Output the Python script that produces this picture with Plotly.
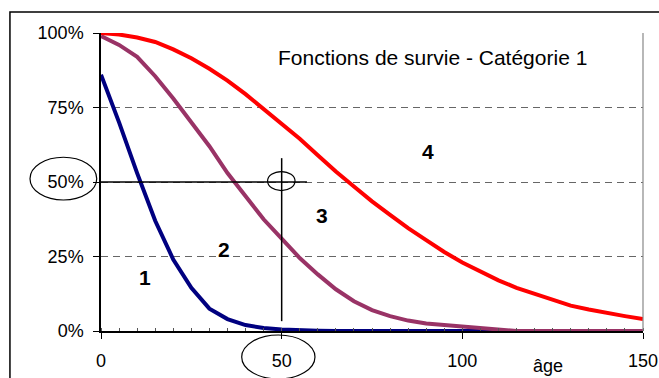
import plotly.graph_objects as go

ages = list(range(0, 155, 5))
blue_vals = [86, 70, 53, 37, 24, 14.5, 7.5, 4, 2, 1, 0.5, 0.2, 0.1, 0, 0, 0, 0, 0, 0, 0, 0,
             0, 0, 0, 0, 0, 0, 0, 0, 0, 0]
purple_vals = [99, 96, 92, 85.5, 78, 70, 62, 53, 45, 37.5, 31, 24.5, 19, 14, 10, 7, 5, 3.5, 2.5, 2, 1.2,
               1, 0.3, 0, 0, 0, 0, 0, 0, 0, 0]
red_vals = [100, 99.5, 98.5, 97, 94.5, 91.5, 88, 84, 79.5, 74.5, 69.5, 64.5, 59, 53.5, 48.5, 43.5,
            39, 34.5, 30.5, 26.5, 23, 20, 17, 14.5, 12.5, 10.5, 8.5, 7.2, 6, 5, 4]

x_ticks = [0, 50, 100, 150]
y_ticks = [0, 25, 50, 75, 100]
y_ticklabels = ["0%", "25%", "50%", "75%", "100%"]
curve_labels = ["1", "2", "3", "4"]
label_x = [12.2, 34.0, 61.2, 90.5]
label_y = [18.1, 27.3, 38.6, 60.4]
title_text = "Fonctions de survie - Catégorie 1"
x_title = "âge"

fig = go.Figure()
for vals, col in [(blue_vals, "#000080"), (purple_vals, "#993366"), (red_vals, "#FF0000")]:
    fig.add_trace(go.Scatter(x=ages, y=vals, mode="lines",
                             line=dict(color=col, width=4), showlegend=False,
                             hoverinfo="skip"))

# reference lines (horizontal at 50%, vertical at age 50)
fig.add_trace(go.Scatter(x=[0, 57], y=[50, 50], mode="lines",
                         line=dict(color="black", width=1.5), showlegend=False))
fig.add_trace(go.Scatter(x=[50, 50], y=[3.3, 58], mode="lines",
                         line=dict(color="black", width=1.5), showlegend=False))

font = "Arial, Liberation Sans, sans-serif"

fig.update_layout(
    width=659, height=378,
    margin=dict(l=101, r=16, t=33, b=47, autoexpand=False),
    paper_bgcolor="white", plot_bgcolor="white",
    font=dict(family=font, size=18, color="black"),
    xaxis=dict(range=[0, 150], tickvals=x_ticks, ticks="outside", ticklen=6,
               tickcolor="black", showline=True, linecolor="black", linewidth=1.5,
               showgrid=False, zeroline=False, ticklabelstandoff=7, automargin=False,
               minor=dict(dtick=5, ticks="inside", ticklen=3, tickcolor="#555")),
    yaxis=dict(range=[0, 100], tickvals=y_ticks, ticktext=y_ticklabels, ticks="outside",
               ticklen=6, tickcolor="black", showline=True, linecolor="black",
               linewidth=1.5, showgrid=True, gridcolor="#666", griddash="7px,5px",
               gridwidth=1, zeroline=False, ticklabelstandoff=6, automargin=False),
)

annotations = [
    dict(text=title_text, x=0.6125, y=0.919, xref="paper", yref="paper",
         xanchor="center", yanchor="middle",
         showarrow=False, font=dict(size=21, family=font)),
    dict(text=x_title, x=0.8247, y=-0.1174, xref="paper", yref="paper",
         xanchor="center", yanchor="middle",
         showarrow=False, font=dict(size=18, family=font)),
]
for t, xx, yy in zip(curve_labels, label_x, label_y):
    annotations.append(dict(text="<b>" + t + "</b>", x=xx, y=yy, showarrow=False,
                            xanchor="center", yanchor="middle",
                            font=dict(size=21, family=font)))
fig.update_layout(annotations=annotations)

shapes = [
    # outer frame
    dict(type="rect", xref="paper", yref="paper", x0=-0.168, x1=1.2, y0=-0.4, y1=1.0705,
         line=dict(color="black", width=1.5), layer="below"),
    # right plot border
    dict(type="line", xref="paper", yref="paper", x0=1, x1=1, y0=0, y1=1,
         line=dict(color="#888", width=1.2)),
    # ellipse around 50%
    dict(type="circle", xref="paper", yref="paper", x0=-0.131, x1=-0.0079, y0=0.4396, y1=0.583,
         line=dict(color="black", width=1.2)),
    # ellipse around 50 (x tick)
    dict(type="circle", xref="paper", yref="paper", x0=0.2596, x1=0.3948, y0=-0.161, y1=-0.0134,
         line=dict(color="black", width=1.2)),
    # small circle at (50, 50%)
    dict(type="circle", xref="x", yref="y", x0=46.1, x1=53.7, y0=47.1, y1=53.5,
         line=dict(color="black", width=1.2)),
]
fig.update_layout(shapes=shapes)

fig.write_html("out.html", config={"displayModeBar": False},
               post_script="document.body.style.margin='0';document.body.style.padding='0';")
